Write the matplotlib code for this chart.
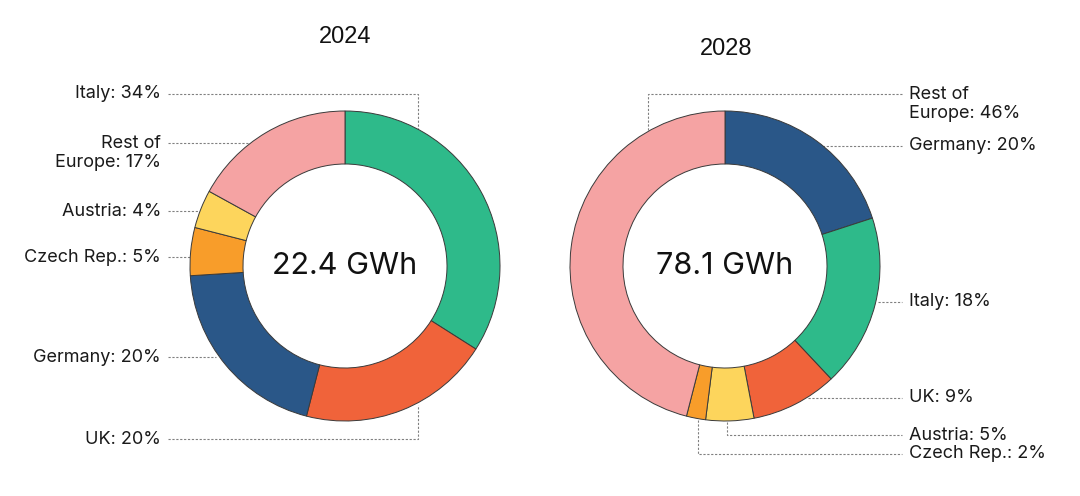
import matplotlib
matplotlib.use("Agg")
import matplotlib.pyplot as plt

# ---------------- data ----------------
years = ["2024", "2028"]
totals_gwh = [22.4, 78.1]
regions_2024 = ["Italy", "UK", "Germany", "Czech Rep.", "Austria", "Rest of Europe"]
shares_2024 = [34, 20, 20, 5, 4, 17]
regions_2028 = ["Germany", "Italy", "UK", "Austria", "Czech Rep.", "Rest of Europe"]
shares_2028 = [20, 18, 9, 5, 2, 46]

# ---------------- style ----------------
colors = {
    "Italy": "#2EBA8A",
    "UK": "#F0633A",
    "Germany": "#2A5788",
    "Czech Rep.": "#F89D2A",
    "Austria": "#FDD55C",
    "Rest of Europe": "#F5A3A3",
}
W, H = 1080, 496
LABEL_FONT = ["Inter", "DejaVu Sans"]
TITLE_FONT = ["Liberation Sans", "DejaVu Sans"]

fig = plt.figure(figsize=(W / 100, H / 100), dpi=100)
ax = fig.add_axes([0, 0, 1, 1])
ax.set_xlim(0, W)
ax.set_ylim(0, H)
ax.set_aspect("equal")
ax.axis("off")


def Y(y):
    return H - y


# layout (pixel coords, y from top)
centers = [(345, 266), (725, 266)]
title_pos = [(345, 37), (726, 49)]
R_OUT, WIDTH = 155, 53


def label_text(name, share):
    n = "Rest of\nEurope" if name == "Rest of Europe" else name
    return f"{n}: {share}%"


# leader layouts: label anchor (x, y, ha) and polyline points
leaders = [
    {
        "Italy": ((161, 94, "right"), [(168, 94), (418, 94), (418, 130)]),
        "Rest of Europe": ((161, 153, "right"), [(168, 143), (248, 143)]),
        "Austria": ((161, 211, "right"), [(168, 211), (199, 211)]),
        "Czech Rep.": ((161, 257, "right"), [(168, 257), (192, 257)]),
        "Germany": ((161, 357, "right"), [(168, 357), (216, 357)]),
        "UK": ((161, 439, "right"), [(168, 439), (418, 439), (418, 405)]),
    },
    {
        "Rest of Europe": ((909, 104, "left"), [(902, 94), (648, 94), (648, 130)]),
        "Germany": ((909, 146, "left"), [(799, 146), (902, 146)]),
        "Italy": ((909, 302, "left"), [(878, 302), (902, 302)]),
        "UK": ((909, 398, "left"), [(808, 398), (902, 398)]),
        "Austria": ((909, 435, "left"), [(727, 422), (727, 435), (902, 435)]),
        "Czech Rep.": ((909, 454, "left"), [(698, 420), (698, 454), (902, 454)]),
    },
]

datasets = [(regions_2024, shares_2024), (regions_2028, shares_2028)]

for i, (regs, vals) in enumerate(datasets):
    cx, cy = centers[i]
    ax.pie(
        vals,
        colors=[colors[r] for r in regs],
        startangle=90,
        counterclock=False,
        center=(cx, Y(cy)),
        radius=R_OUT,
        wedgeprops=dict(width=WIDTH, edgecolor="#3a3a3a", linewidth=0.7),
        frame=True,
    )
    ax.text(cx, Y(cy), f"{totals_gwh[i]} GWh", ha="center", va="center",
            fontsize=22, family=LABEL_FONT, color="#111111")
    tx, ty = title_pos[i]
    ax.text(tx, Y(ty), years[i], ha="center", va="center", fontsize=17,
            family=TITLE_FONT, color="#111111")
    for r, v in zip(regs, vals):
        (lx, ly, ha), pts = leaders[i][r]
        xs = [p[0] for p in pts]
        ys = [Y(p[1]) for p in pts]
        ax.plot(xs, ys, color="#808080", lw=0.8, ls=(0, (2, 1.5)), zorder=0.5)
        ax.text(lx, Y(ly), label_text(r, v), ha=ha, va="center",
                multialignment=ha, fontsize=13, family=LABEL_FONT,
                color="#1a1a1a", linespacing=1.2)

ax.set_xlim(0, W)
ax.set_ylim(0, H)
ax.axis("off")
fig.savefig("out.png", dpi=100, facecolor="white")
